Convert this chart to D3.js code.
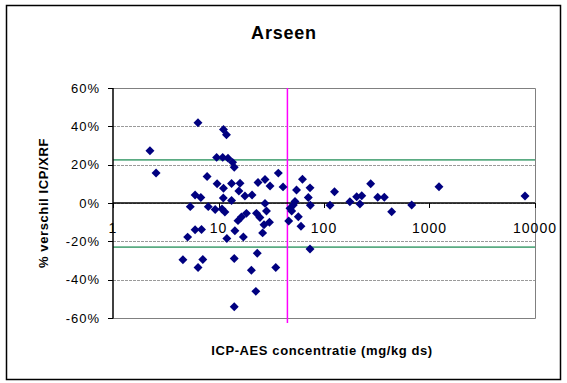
<!DOCTYPE html>
<html>
<head>
<meta charset="utf-8">
<script src="https://cdn.jsdelivr.net/npm/d3@7/dist/d3.min.js"></script>
<style>
  body { margin: 0; background: #fff; }
  svg { display: block; font-family: Arial, "Liberation Sans", sans-serif; }
</style>
</head>
<body>
<div id="chart"></div>
<script>
// ICP-AES concentration (mg/kg ds) and % difference ICP/XRF
const concentration = [
  2.24, 2.56, 6.39, 11.15, 11.9, 9.6, 10.96, 12.3, 13.6, 14.1,
  7.8, 36.9, 40.9, 23.7, 27.6, 30.8, 9.7, 11.15, 13.3, 16.0,
  15.6, 17.8, 20.8, 6.0, 6.8, 11.1, 13.3, 5.4, 8.0, 9.3,
  10.8, 11.5, 15.3, 16.5, 18.4, 22.9, 24.7, 28.5, 27.6, 27.0,
  30.4, 26.2, 14.3, 12.0, 17.2, 5.1, 6.0, 6.9, 4.6, 7.1,
  6.4, 14.1, 23.3, 20.5, 34.9, 22.6, 14.1, 46.3, 53.1, 51.2,
  47.6, 49.4, 54.9, 62.5, 73.7, 71.0, 74.2, 57.1, 60.5, 73.7,
  125.8, 114, 176, 204, 228, 219, 277, 323, 373, 438,
  678, 1230, 8040
];
const difference = [
  0.273, 0.157, 0.419, 0.383, 0.356, 0.238, 0.238, 0.234, 0.212, 0.187,
  0.138, 0.156, 0.084, 0.107, 0.123, 0.089, 0.100, 0.077, 0.102, 0.103,
  0.063, 0.037, 0.042, 0.042, 0.029, 0.026, 0.013, -0.019, -0.019, -0.034,
  -0.031, -0.047, -0.092, -0.073, -0.054, -0.054, -0.076, -0.042, -0.002, -0.113,
  -0.100, -0.156, -0.145, -0.185, -0.177, -0.178, -0.140, -0.138, -0.296, -0.295,
  -0.337, -0.290, -0.262, -0.351, -0.337, -0.461, -0.541, -0.094, 0.008, -0.010,
  -0.028, -0.042, 0.068, 0.124, 0.079, 0.029, -0.012, -0.072, -0.121, -0.240,
  0.059, -0.012, 0.007, 0.033, 0.038, -0.005, 0.100, 0.030, 0.030, -0.046,
  -0.010, 0.085, 0.037
];
const upperLimit = 0.225;
const lowerLimit = -0.23;
const detectionLimit = 45;

const xTicks = [1, 10, 100, 1000, 10000];
const xTickLabels = ["1", "10", "100", "1000", "10000"];
const yTicks = [-0.6, -0.4, -0.2, 0, 0.2, 0.4, 0.6];
const yTickLabels = ["-60%", "-40%", "-20%", "0%", "20%", "40%", "60%"];

const W = 567, H = 383;
const plotLeft = 113, plotRight = 535, plotTop = 88, plotBottom = 318;

const svg = d3.select("#chart").append("svg")
  .attr("width", W).attr("height", H);

svg.append("rect")
  .attr("x", 6.5).attr("y", 5.5).attr("width", 554).attr("height", 374)
  .attr("fill", "#fff").attr("stroke", "#000").attr("stroke-width", 1.5);

const x = d3.scaleLog().domain([1, 10000]).range([plotLeft, plotRight]);
const y = d3.scaleLinear().domain([-0.6, 0.6]).range([plotBottom, plotTop]);

// gridlines
svg.append("g").selectAll("line")
  .data(yTicks)
  .enter().append("line")
  .attr("x1", plotLeft).attr("x2", plotRight)
  .attr("y1", d => Math.round(y(d)) + 0.5).attr("y2", d => Math.round(y(d)) + 0.5)
  .attr("stroke", "#9a9a9a").attr("stroke-dasharray", "3,1");

// plot border (top / right / bottom)
svg.append("path")
  .attr("d", `M${plotLeft},${plotTop + 0.5}H${plotRight + 0.5}V${plotBottom + 0.5}H${plotLeft}`)
  .attr("fill", "none").attr("stroke", "#808080").attr("stroke-width", 1);

// limit lines
[upperLimit, lowerLimit].forEach(v => {
  svg.append("line")
    .attr("x1", plotLeft).attr("x2", plotRight)
    .attr("y1", y(v)).attr("y2", y(v))
    .attr("stroke", "#5aab82").attr("stroke-width", 1.6);
});

svg.append("line")
  .attr("x1", x(detectionLimit)).attr("x2", x(detectionLimit))
  .attr("y1", plotTop).attr("y2", plotBottom + 5)
  .attr("stroke", "#ff00ff").attr("stroke-width", 1.5);

// y axis
svg.append("line")
  .attr("x1", plotLeft).attr("x2", plotLeft).attr("y1", plotTop).attr("y2", plotBottom + 0.5)
  .attr("stroke", "#000").attr("stroke-width", 1.5);
const yAx = svg.append("g");
yAx.selectAll("line").data(yTicks).enter().append("line")
  .attr("x1", plotLeft - 5).attr("x2", plotLeft)
  .attr("y1", d => Math.round(y(d)) + 0.5).attr("y2", d => Math.round(y(d)) + 0.5)
  .attr("stroke", "#000");
yAx.selectAll("text").data(yTicks).enter().append("text")
  .attr("x", 100).attr("y", d => y(d))
  .attr("dy", "0.36em")
  .attr("text-anchor", "end")
  .style("font-size", "13px").style("letter-spacing", "1px")
  .text((d, i) => yTickLabels[i]);

// x axis on the zero line
svg.append("line")
  .attr("x1", plotLeft).attr("x2", plotRight).attr("y1", y(0)).attr("y2", y(0))
  .attr("stroke", "#000").attr("stroke-width", 1.5);
const xAx = svg.append("g");
xAx.selectAll("line").data(xTicks).enter().append("line")
  .attr("x1", d => Math.round(x(d)) + 0.5).attr("x2", d => Math.round(x(d)) + 0.5)
  .attr("y1", y(0)).attr("y2", y(0) + 5)
  .attr("stroke", "#000");
xAx.selectAll("text").data(xTicks).enter().append("text")
  .attr("x", d => x(d)).attr("y", 233)
  .attr("text-anchor", "middle")
  .style("font-size", "14px").style("letter-spacing", "1px")
  .text((d, i) => xTickLabels[i]);

// points
const pts = d3.range(concentration.length).map(i => ({ c: concentration[i], v: difference[i] }));
svg.append("g").selectAll("path")
  .data(pts)
  .enter().append("path")
  .attr("d", d3.symbol().type(d3.symbolSquare).size(40))
  .attr("transform", d => `translate(${x(d.c)},${y(d.v)}) rotate(45)`)
  .attr("fill", "#000080");

// titles
svg.append("text")
  .attr("x", 284).attr("y", 39)
  .attr("text-anchor", "middle")
  .style("font-size", "18px").style("font-weight", "bold").style("letter-spacing", "0.8px")
  .text("Arseen");

svg.append("text")
  .attr("x", 322).attr("y", 355)
  .attr("text-anchor", "middle")
  .style("font-size", "13px").style("font-weight", "bold").style("letter-spacing", "0.6px")
  .text("ICP-AES concentratie (mg/kg ds)");

svg.append("text")
  .attr("transform", "translate(48,203) rotate(-90)")
  .attr("text-anchor", "middle")
  .style("font-size", "13px").style("font-weight", "bold").style("letter-spacing", "0.6px")
  .text("% verschil ICP/XRF");
</script>
</body>
</html>
